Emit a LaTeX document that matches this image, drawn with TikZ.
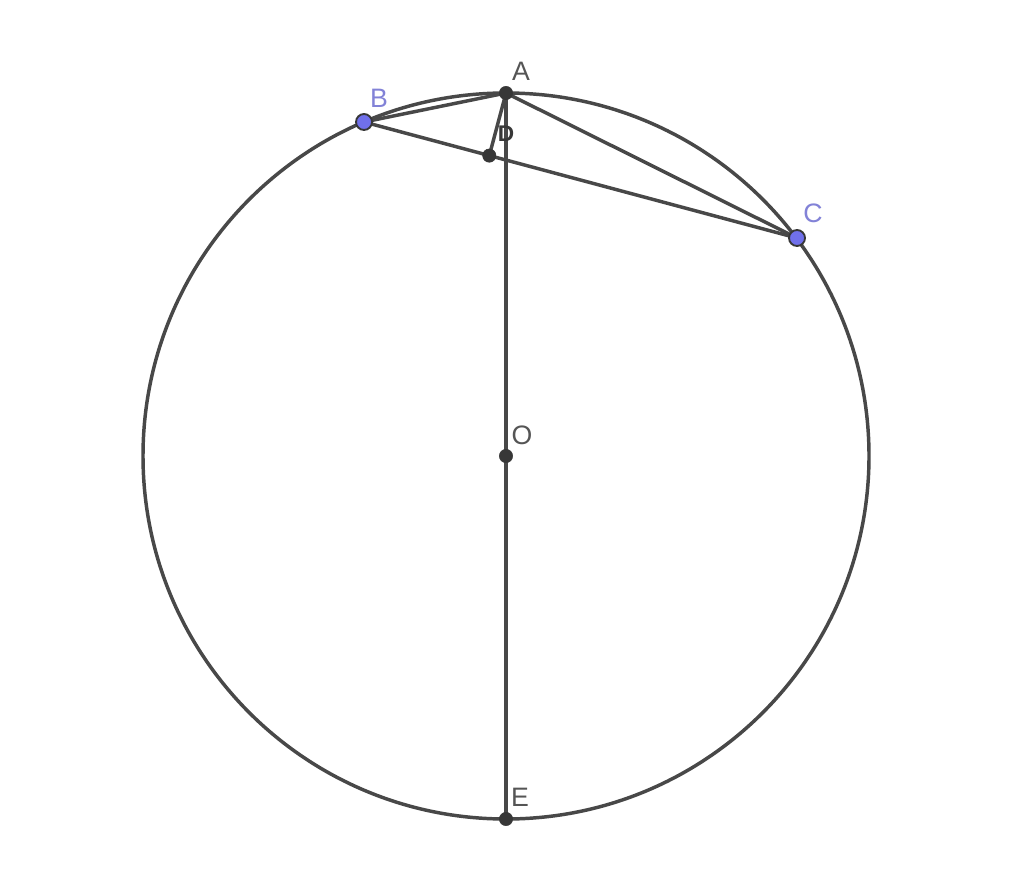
\documentclass[tikz,border=0pt]{standalone}
\usepackage{fontspec}
\setmainfont{Liberation Sans}
\begin{document}
\begin{tikzpicture}[x=0.75pt,y=-0.75pt,
  geo/.style={draw=linegray,line width=2.6pt},
  dpt/.style={circle,fill=ptdark,draw=ptdark,inner sep=0pt,minimum size=10pt},
  bpt/.style={circle,fill=ptblue,draw=ptdark,line width=1.4pt,inner sep=0pt,minimum size=12pt},
  glab/.style={text=labgray,font=\fontsize{20}{20}\selectfont},
  blab/.style={text=labblue,font=\fontsize{20}{20}\selectfont}]
\definecolor{linegray}{RGB}{72,72,72}
\definecolor{ptdark}{RGB}{55,55,55}
\definecolor{ptblue}{RGB}{112,112,235}
\definecolor{labgray}{RGB}{85,85,85}
\definecolor{labblue}{RGB}{130,130,215}
\useasboundingbox[fill=white] (0,0) rectangle (1024,877);
\coordinate (O) at (506,456);
\coordinate (A) at (506,93);
\coordinate (B) at (364,122);
\coordinate (C) at (797,238);
\coordinate (D) at (489.3,155.6);
\coordinate (E) at (506,819);
\draw[geo] (O) circle[radius=363];
\draw[geo] (A) -- (E);
\draw[geo] (A) -- (B);
\draw[geo] (A) -- (C);
\draw[geo] (B) -- (C);
\draw[geo] (A) -- (D);
\node[dpt] (pA) at (A) {};
\node[dpt] (pD) at (D) {};
\node[dpt] (pO) at (O) {};
\node[dpt] (pE) at (E) {};
\node[bpt] (pB) at (B) {};
\node[bpt] (pC) at (C) {};
\node[glab] (lA) at (521,71) {A};
\node[blab] (lB) at (379,98) {B};
\node[blab] (lC) at (813,213) {C};
\node[glab] (lO) at (522,435) {O};
\node[glab] (lE) at (520,797) {E};
\node[glab,text=ptdark,font=\bfseries\fontsize{17}{17}\selectfont] (lD) at (506,134) {D};
\end{tikzpicture}
\end{document}
